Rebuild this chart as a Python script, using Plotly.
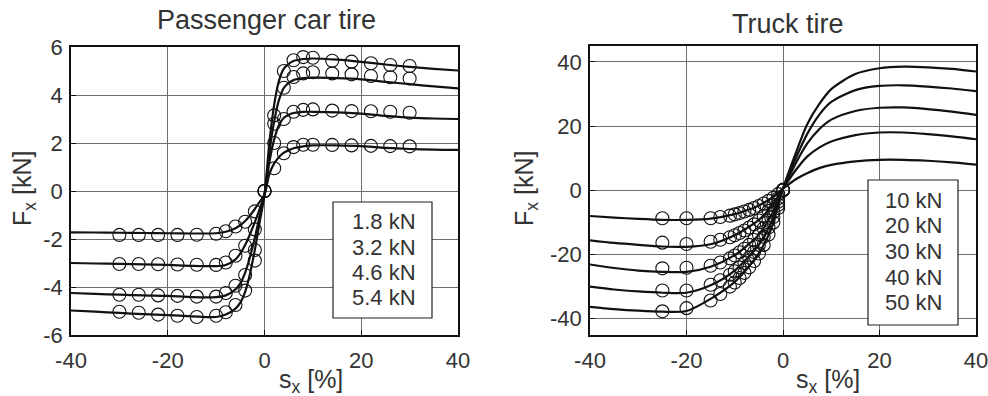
import plotly.graph_objects as go

# ---------------- Passenger car tire ----------------
car_loads = ["1.8 kN", "3.2 kN", "4.6 kN", "5.4 kN"]
car_curve_x = [-40, -35, -30, -25, -20, -15, -10, -8, -6, -5, -4, -3, -2, -1, 0,
               1, 2, 3, 4, 5, 6, 8, 10, 15, 20, 25, 30, 35, 40]
car_curve_18 = [-1.72, -1.73, -1.74, -1.75, -1.76, -1.77, -1.76, -1.70, -1.55, -1.42, -1.25, -1.02, -0.75, -0.45, -0.15,
                0.70, 1.15, 1.42, 1.60, 1.70, 1.78, 1.86, 1.90, 1.90, 1.87, 1.80, 1.75, 1.72, 1.71]
car_curve_32 = [-3.00, -3.02, -3.04, -3.06, -3.08, -3.12, -3.13, -3.08, -2.85, -2.60, -2.25, -1.80, -1.30, -0.75, -0.15,
                1.20, 2.15, 2.75, 3.05, 3.18, 3.25, 3.30, 3.30, 3.28, 3.22, 3.13, 3.06, 3.02, 3.00]
car_curve_46 = [-4.25, -4.29, -4.32, -4.35, -4.37, -4.42, -4.42, -4.35, -4.10, -3.85, -3.40, -2.75, -1.95, -1.05, -0.15,
                1.60, 2.90, 3.80, 4.30, 4.50, 4.62, 4.70, 4.72, 4.70, 4.65, 4.55, 4.45, 4.36, 4.28]
car_curve_54 = [-4.98, -5.03, -5.08, -5.13, -5.17, -5.22, -5.25, -5.15, -4.90, -4.65, -4.20, -3.45, -2.45, -1.30, -0.15,
                2.00, 3.60, 4.60, 5.10, 5.30, 5.42, 5.50, 5.52, 5.47, 5.38, 5.27, 5.17, 5.09, 5.02]

car_meas_x = [-30, -26, -22, -18, -14, -10, -8, -6, -4, -2, 0, 2, 4, 6, 8, 10, 14, 18, 22, 26, 30]
car_meas_18 = [-1.83, -1.83, -1.83, -1.83, -1.82, -1.78, -1.68, -1.48, -1.28, -0.85, 0,
               0.95, 1.57, 1.83, 1.93, 1.93, 1.92, 1.90, 1.88, 1.87, 1.86]
car_meas_32 = [-3.04, -3.04, -3.05, -3.06, -3.07, -3.08, -2.98, -2.70, -2.28, -1.60, 0,
               2.00, 3.00, 3.30, 3.38, 3.40, 3.35, 3.33, 3.32, 3.30, 3.26]
car_meas_46 = [-4.32, -4.32, -4.35, -4.37, -4.40, -4.40, -4.25, -3.95, -3.50, -2.46, 0,
               2.80, 4.30, 4.75, 4.90, 4.95, 4.90, 4.86, 4.79, 4.74, 4.69]
car_meas_54 = [-5.03, -5.07, -5.15, -5.20, -5.25, -5.20, -5.05, -4.75, -4.15, -2.90, 0,
               3.15, 5.00, 5.45, 5.58, 5.55, 5.43, 5.39, 5.32, 5.25, 5.21]

# ---------------- Truck tire ----------------
truck_loads = ["10 kN", "20 kN", "30 kN", "40 kN", "50 kN"]
truck_curve_x = [-40, -35, -30, -25, -20, -15, -10, -7.5, -5, -2.5, 0,
                 2.5, 5, 7.5, 10, 15, 20, 25, 30, 35, 40]
truck_curve_10 = [-8.0, -8.5, -8.9, -9.2, -9.2, -8.8, -7.4, -6.2, -4.7, -2.5, 0.5,
                  3.3, 5.3, 6.9, 7.9, 9.0, 9.5, 9.5, 9.2, 8.7, 8.0]
truck_curve_20 = [-15.6, -16.4, -17.0, -17.5, -17.6, -16.8, -14.0, -11.8, -9.2, -5.2, 0.5,
                  6.0, 10.5, 13.3, 15.2, 17.2, 18.0, 18.0, 17.5, 16.8, 15.9]
truck_curve_30 = [-23.1, -24.2, -25.0, -25.4, -25.4, -23.8, -20.2, -17.3, -13.8, -8.0, 0.5,
                  8.0, 14.5, 19.0, 22.0, 24.7, 25.7, 25.8, 25.3, 24.5, 23.5]
truck_curve_40 = [-30.0, -30.9, -31.5, -31.9, -31.9, -29.6, -25.0, -21.3, -17.0, -10.2, 0.5,
                  9.5, 17.5, 23.5, 27.5, 31.2, 32.5, 32.7, 32.3, 31.7, 30.9]
truck_curve_50 = [-36.3, -37.0, -37.5, -37.8, -37.6, -33.8, -28.5, -24.5, -19.6, -12.2, 0.5,
                  11.0, 20.5, 26.8, 31.5, 36.2, 38.0, 38.5, 38.3, 37.8, 37.0]

truck_meas_x = [-25, -20, -15, -13, -11, -10, -9, -8, -7, -6, -5, -4, -3, -2, -1, 0]
truck_meas_10 = [-8.7, -8.7, -8.7, -8.3, -7.9, -7.5, -7.1, -6.6, -6.1, -5.5, -4.9, -4.1, -3.3, -2.3, -1.2, 0.2]
truck_meas_20 = [-16.3, -16.7, -16.0, -15.4, -14.6, -14.0, -13.3, -12.5, -11.6, -10.6, -9.4, -8.0, -6.4, -4.6, -2.5, 0.0]
truck_meas_30 = [-24.3, -24.1, -23.5, -22.5, -21.2, -20.3, -19.3, -18.2, -17.0, -15.5, -13.8, -11.8, -9.5, -6.8, -3.6, 0.0]
truck_meas_40 = [-31.2, -31.2, -29.4, -28.0, -26.3, -25.2, -24.0, -22.6, -21.0, -19.2, -17.0, -14.5, -11.6, -8.3, -4.5, 0.0]
truck_meas_50 = [-37.7, -36.7, -34.3, -32.3, -30.0, -28.7, -27.3, -25.7, -24.0, -22.0, -19.7, -17.0, -13.8, -10.0, -5.5, 0.0]

car_x_ticks = [-40, -20, 0, 20, 40]
car_x_ticktext = ["-40", "-20", "0", "20", "40"]
car_y_ticks = [-6, -4, -2, 0, 2, 4, 6]
car_y_ticktext = ["-6", "-4", "-2", "0", "2", "4", "6"]
truck_x_ticks = [-40, -20, 0, 20, 40]
truck_x_ticktext = ["-40", "-20", "0", "20", "40"]
truck_y_ticks = [-40, -20, 0, 20, 40]
truck_y_ticktext = ["-40", "-20", "0", "20", "40"]

FONT = "Liberation Sans, Arial, sans-serif"
TXT = "#333333"
GRID = "#6e6e6e"

fig = go.Figure()

car_curves = [car_curve_18, car_curve_32, car_curve_46, car_curve_54]
car_meas = [car_meas_18, car_meas_32, car_meas_46, car_meas_54]
for name, cy, my in zip(car_loads, car_curves, car_meas):
    fig.add_trace(go.Scatter(x=car_curve_x, y=cy, mode="lines", name=name,
                             line=dict(color="#111111", width=2.2, shape="spline", smoothing=0.8),
                             xaxis="x", yaxis="y", showlegend=False))
    fig.add_trace(go.Scatter(x=car_meas_x, y=my, mode="markers", name=name,
                             marker=dict(symbol="circle-open", size=13, color="#111111",
                                         line=dict(width=1.1)),
                             xaxis="x", yaxis="y", showlegend=False))

truck_curves = [truck_curve_10, truck_curve_20, truck_curve_30, truck_curve_40, truck_curve_50]
truck_meas = [truck_meas_10, truck_meas_20, truck_meas_30, truck_meas_40, truck_meas_50]
for name, cy, my in zip(truck_loads, truck_curves, truck_meas):
    fig.add_trace(go.Scatter(x=truck_curve_x, y=cy, mode="lines", name=name,
                             line=dict(color="#111111", width=2.2, shape="spline", smoothing=0.8),
                             xaxis="x2", yaxis="y2", showlegend=False))
    fig.add_trace(go.Scatter(x=truck_meas_x, y=my, mode="markers", name=name,
                             marker=dict(symbol="circle-open", size=13, color="#111111",
                                         line=dict(width=1.1)),
                             xaxis="x2", yaxis="y2", showlegend=False))

axis_common = dict(showgrid=True, gridcolor=GRID, gridwidth=1, zeroline=False,
                   showline=True, linecolor="#111111", linewidth=1.6, mirror=True,
                   ticks="inside", ticklen=5, tickcolor="#111111", automargin=False,
                   ticklabeloverflow="allow",
                   tickfont=dict(family=FONT, size=22, color=TXT))

W, H = 988, 396
fig.update_layout(
    width=W, height=H, margin=dict(l=0, r=0, t=0, b=0, autoexpand=False),
    paper_bgcolor="white", plot_bgcolor="white",
    xaxis=dict(domain=[71 / W, 458 / W], range=[-40, 40], tickvals=car_x_ticks,
               ticktext=car_x_ticktext, anchor="y", ticklabelstandoff=5, **axis_common),
    yaxis=dict(domain=[1 - 335 / H, 1 - 47 / H], range=[-6, 6], tickvals=car_y_ticks,
               ticktext=car_y_ticktext, anchor="x", ticklabelstandoff=2, **axis_common),
    xaxis2=dict(domain=[590 / W, 976 / W], range=[-40, 40], tickvals=truck_x_ticks,
                ticktext=truck_x_ticktext, anchor="y2", ticklabelstandoff=5, **axis_common),
    yaxis2=dict(domain=[1 - 334.8 / H, 1 - 45.8 / H], range=[-45, 45], tickvals=truck_y_ticks,
                ticktext=truck_y_ticktext, anchor="x2", ticklabelstandoff=2, **axis_common),
)

annots = []
# Titles
annots.append(dict(text="Passenger car tire", x=266 / W, y=1 - 20 / H, xref="paper", yref="paper",
                   showarrow=False, xanchor="center", yanchor="middle",
                   font=dict(family=FONT, size=27, color=TXT)))
annots.append(dict(text="Truck tire", x=788 / W, y=1 - 24 / H, xref="paper", yref="paper",
                   showarrow=False, xanchor="center", yanchor="middle",
                   font=dict(family=FONT, size=27, color=TXT)))
# Axis titles
for xc in (311, 828):
    annots.append(dict(text="s<sub>x</sub> [%]", x=xc / W, y=1 - 381 / H, xref="paper", yref="paper",
                       showarrow=False, xanchor="center", yanchor="middle",
                       font=dict(family=FONT, size=25, color=TXT)))
for xc in (24, 526):
    annots.append(dict(text="F<sub>x</sub> [kN]", x=xc / W, y=1 - 189 / H, xref="paper", yref="paper",
                       showarrow=False, xanchor="center", yanchor="middle", textangle=-90,
                       font=dict(family=FONT, size=25, color=TXT)))

shapes = []
# Legend boxes
shapes.append(dict(type="rect", xref="paper", yref="paper", x0=333 / W, x1=432 / W,
                   y0=1 - 318 / H, y1=1 - 202 / H, line=dict(color="#222222", width=1.2),
                   fillcolor="white", layer="above"))
for i, lab in enumerate(car_loads):
    annots.append(dict(text=lab, x=384 / W, y=1 - (222 + 25 * i) / H, xref="paper", yref="paper",
                       showarrow=False, xanchor="center", yanchor="middle",
                       font=dict(family=FONT, size=22, color=TXT)))
shapes.append(dict(type="rect", xref="paper", yref="paper", x0=868 / W, x1=958 / W,
                   y0=1 - 325 / H, y1=1 - 180 / H, line=dict(color="#222222", width=1.2),
                   fillcolor="white", layer="above"))
for i, lab in enumerate(truck_loads):
    annots.append(dict(text=lab, x=913 / W, y=1 - (200 + 25.7 * i) / H, xref="paper", yref="paper",
                       showarrow=False, xanchor="center", yanchor="middle",
                       font=dict(family=FONT, size=22, color=TXT)))

fig.update_layout(annotations=annots, shapes=shapes)
fig.write_html("out.html")
